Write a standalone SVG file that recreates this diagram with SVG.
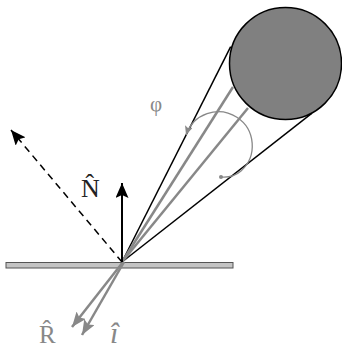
<svg xmlns="http://www.w3.org/2000/svg" width="342" height="349" viewBox="0 0 342 349">
<defs>
<marker id="ab" markerUnits="userSpaceOnUse" markerWidth="17" markerHeight="13" refX="15" refY="6.5" orient="auto"><path d="M0,0 L15,6.5 L0,13 L3,6.5 Z" fill="#000"/></marker>
<marker id="ag" markerUnits="userSpaceOnUse" markerWidth="16" markerHeight="12" refX="15" refY="6" orient="auto"><path d="M0,0 L15,6 L0,12 L3,6 Z" fill="#888"/></marker>
<marker id="as" markerUnits="userSpaceOnUse" markerWidth="10" markerHeight="8" refX="9" refY="4" orient="auto-start-reverse"><path d="M0,0 L9,4 L0,8 L2,4 Z" fill="#888"/></marker>
</defs>
<style>
.blk{stroke:#000;stroke-width:1.5;fill:none}
.gry{stroke:#888;stroke-width:2.5;fill:none}
.lbl{font-family:"Liberation Serif","DejaVu Serif",serif}
</style>
<g id="source">
<circle cx="285.5" cy="63.5" r="56" fill="#808080" stroke="#000" stroke-width="1.5"/>
</g>
<g id="surface">
<rect x="6" y="262.5" width="227" height="5.5" fill="#c4c4c4" stroke="#555" stroke-width="1"/>
</g>
<g id="connectors">
<line class="blk" x1="122" y1="262" x2="230.7" y2="46.7"/>
<line class="blk" x1="122" y1="262" x2="311.7" y2="113.3"/>
<line class="gry" x1="122" y1="262" x2="233" y2="87"/>
<line class="gry" x1="122" y1="262" x2="248" y2="108"/>
<line class="gry" x1="123" y1="262" x2="72" y2="327" marker-end="url(#ag)"/>
<line class="gry" x1="124" y1="262" x2="82" y2="335" marker-end="url(#ag)"/>
<line stroke="#000" stroke-width="2" x1="122" y1="262" x2="122" y2="183" marker-end="url(#ab)"/>
<line stroke="#000" stroke-width="1.5" stroke-dasharray="7,5" x1="122" y1="262" x2="11" y2="130" marker-end="url(#ab)"/>
<path d="M186,135 A34,34 0 1 1 241,171 Q233,178 221,177" fill="none" stroke="#888" stroke-width="1.3" marker-start="url(#as)"/>
<circle cx="221" cy="177" r="2" fill="#888"/>
</g>
<g id="labels">
<text class="lbl" x="81" y="197" font-size="26" fill="#222">N̂</text>
<text class="lbl" x="39" y="343" font-size="25" fill="#888">R̂</text>
<text class="lbl" x="110" y="343" font-size="30" font-style="italic" fill="#888">î</text>
<text class="lbl" x="150" y="111" font-size="21" fill="#888">φ</text>
</g>
</svg>
